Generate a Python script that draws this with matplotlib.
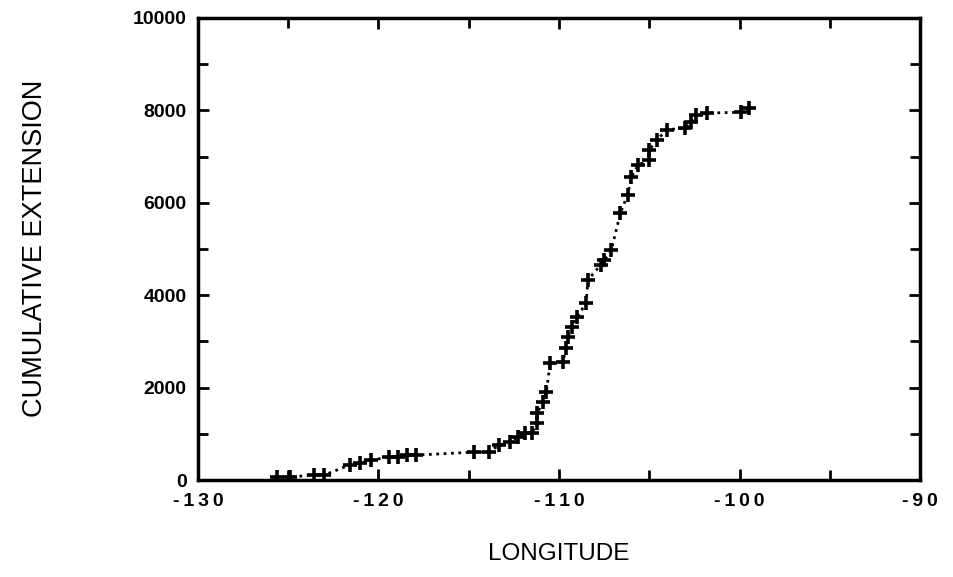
import numpy as np
import matplotlib
matplotlib.use('Agg')
import matplotlib.pyplot as plt
from matplotlib.ticker import MultipleLocator

# Cumulative extension vs longitude
longitude = [-125.6, -124.9, -123.6, -123.0, -121.6, -121.0, -120.4, -119.4,
             -118.9, -118.4, -117.9, -114.7, -113.9, -113.3, -112.7, -112.3,
             -111.9, -111.5, -111.2, -111.2, -110.9, -110.7, -110.5, -109.8,
             -109.6, -109.5, -109.3, -109.0, -108.5, -108.4, -107.7, -107.5,
             -107.1, -106.6, -106.2, -106.0, -105.6, -105.0, -105.0, -104.6,
             -104.0, -103.0, -102.7, -102.4, -101.8, -99.9, -99.5]
extension = [65, 65, 110, 110, 325, 370, 430, 500,
             500, 540, 540, 605, 605, 760, 820, 930,
             1020, 1020, 1230, 1450, 1690, 1900, 2530, 2550,
             2860, 3100, 3310, 3530, 3830, 4330, 4650, 4760,
             4980, 5780, 6170, 6560, 6820, 6930, 7140, 7360,
             7580, 7620, 7750, 7900, 7940, 7960, 8050]

xticks = [-130, -120, -110, -100, -90]
xtick_labels = ['-130', '-120', '-110', '-100', '-90']
yticks = [0, 2000, 4000, 6000, 8000, 10000]

plt.rcParams['font.family'] = ['Liberation Sans', 'DejaVu Sans']

fig = plt.figure(figsize=(9.54, 5.77), dpi=100)
ax = fig.add_axes([0.2075, 0.168, 0.757, 0.801])

ax.plot(longitude, extension, linestyle=':', color='black', linewidth=2.0,
        marker='+', markersize=10, markeredgewidth=2.6)

ax.set_xlim(-130, -90)
ax.set_ylim(0, 10000)
ax.set_xticks(xticks)
ax.set_xticklabels(['\u2009'.join(t) for t in xtick_labels])
ax.xaxis.set_minor_locator(MultipleLocator(5))
ax.set_yticks(yticks)
ax.yaxis.set_minor_locator(MultipleLocator(1000))

ax.tick_params(which='both', direction='in', top=True, right=True,
               width=2.0, color='black')
ax.tick_params(which='major', length=8)
ax.tick_params(which='minor', length=7)
ax.tick_params(axis='x', labelsize=14, pad=9)
ax.tick_params(axis='y', labelsize=14, pad=8)
for lbl in ax.get_xticklabels() + ax.get_yticklabels():
    lbl.set_fontweight('bold')

for sp in ax.spines.values():
    sp.set_linewidth(2.5)

fig.text(0.586, 0.04, 'LONGITUDE', ha='center', va='center', fontsize=17.5)
fig.text(0.037, 0.57, 'CUMULATIVE EXTENSION', ha='center', va='center',
         rotation=90, fontsize=19.5)

plt.savefig('out.png', dpi=100)
plt.close()
